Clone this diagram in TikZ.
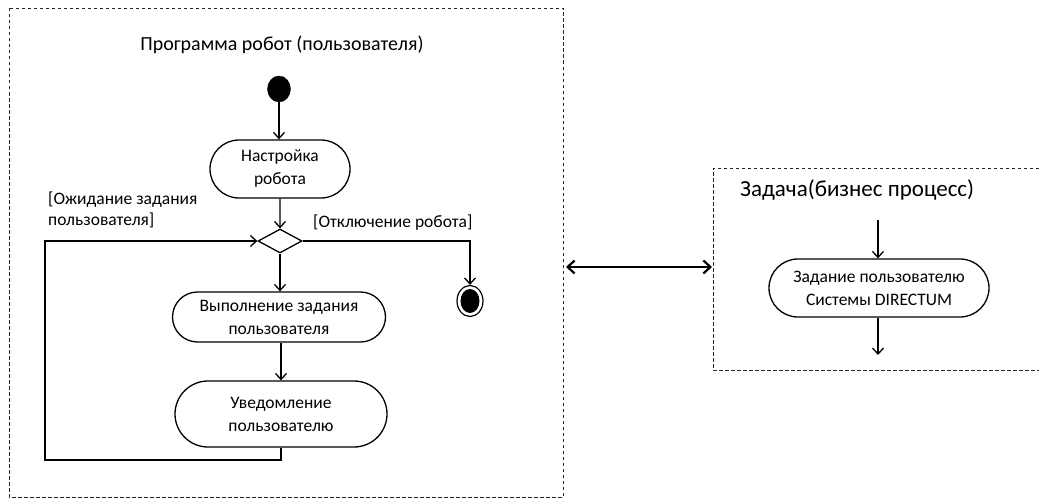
\documentclass[tikz,border=0pt]{standalone}
\usepackage{fontspec}
\setmainfont{Carlito}
\usetikzlibrary{arrows.meta,shapes.misc,shapes.geometric}
\tikzset{
  frame/.style={draw=black!85, line width=0.8pt, dash pattern=on 3.5pt off 2.5pt},
  act/.style={rounded rectangle, draw, line width=1.3pt, align=center, font=\fontsize{17.5}{23}\selectfont, inner sep=0pt},
  flow/.style={line width=1.3pt, -{Straight Barb[length=6pt,width=11pt,line width=1.3pt]}},
  lbl/.style={font=\fontsize{17.5}{21}\selectfont, align=left, inner sep=0pt},
  ttl/.style={font=\fontsize{20}{24}\selectfont, inner sep=0pt},
}
\begin{document}
\begin{tikzpicture}[x=1pt,y=-1pt]
\useasboundingbox (0,0) rectangle (1039,503);
% frames
\draw[frame] (9,8) rectangle (563,497);
\draw[frame] (1045,168) -- (713,168) -- (713,370) -- (1045,370);
% left diagram
\node[ttl] (title1) at (282,45) {Программа робот (пользователя)};
\node[ellipse, fill=black, draw, minimum width=23pt, minimum height=26pt, inner sep=0pt] (start) at (279,89) {};
\node[act, minimum width=140pt, minimum height=58pt] (setup) at (280,169) {Настройка\\робота};
\node[diamond, draw, line width=1.3pt, minimum width=44pt, minimum height=24pt, inner sep=0pt] (dec) at (280,241) {};
\node[act, minimum width=213pt, minimum height=50pt] (exec) at (279,317) {Выполнение задания\\пользователя};
\node[act, minimum width=212pt, minimum height=66pt] (notify) at (281,414) {Уведомление\\пользователю};
\node[ellipse, draw, line width=1.2pt, minimum width=26pt, minimum height=31pt, inner sep=0pt] (endn) at (470,301) {};
\fill (endn.center) ellipse (9.5pt and 12pt);
\node[lbl, anchor=north west] (lwait) at (48,192) {[Ожидание задания\\пользователя]};
\node[lbl, anchor=west] (loff) at (313,223) {[Отключение робота]};
\coordinate (c1) at (470,241);
\coordinate (c2) at (281,460);
\coordinate (c3) at (45,460);
\coordinate (c4) at (45,241);
\draw[flow] (start) -- (setup.north -| start);
\draw[flow] (setup) -- (dec.north);
\draw[flow] (dec.south) -- (exec.north -| dec.south);
\draw[flow] (exec.south -| notify) -- (notify.north);
\draw[flow] (dec.east) -- (c1) -- (endn.north);
\draw[flow] (notify.south) -- (c2) -- (c3) -- (c4) -- (dec.west);
% link
\coordinate (la) at (566,267);
\coordinate (lb) at (712,267);
\draw[line width=2.2pt, {Straight Barb[length=7pt,width=13pt,line width=2.2pt]}-{Straight Barb[length=7pt,width=13pt,line width=2.2pt]}] (la) -- (lb);
% right diagram
\node[ttl, font=\fontsize{23}{27}\selectfont, anchor=west] (title2) at (740,190) {Задача(бизнес процесс)};
\node[act, minimum width=220pt, minimum height=58pt] (task) at (879,288) {Задание пользователю\\Системы DIRECTUM};
\coordinate (tin) at (878,220);
\coordinate (tout) at (878,355);
\draw[flow, line width=1.1pt] (tin) -- (task.north -| tin);
\draw[flow, line width=1.1pt] (task.south -| tin) -- (tout);
\end{tikzpicture}
\end{document}
